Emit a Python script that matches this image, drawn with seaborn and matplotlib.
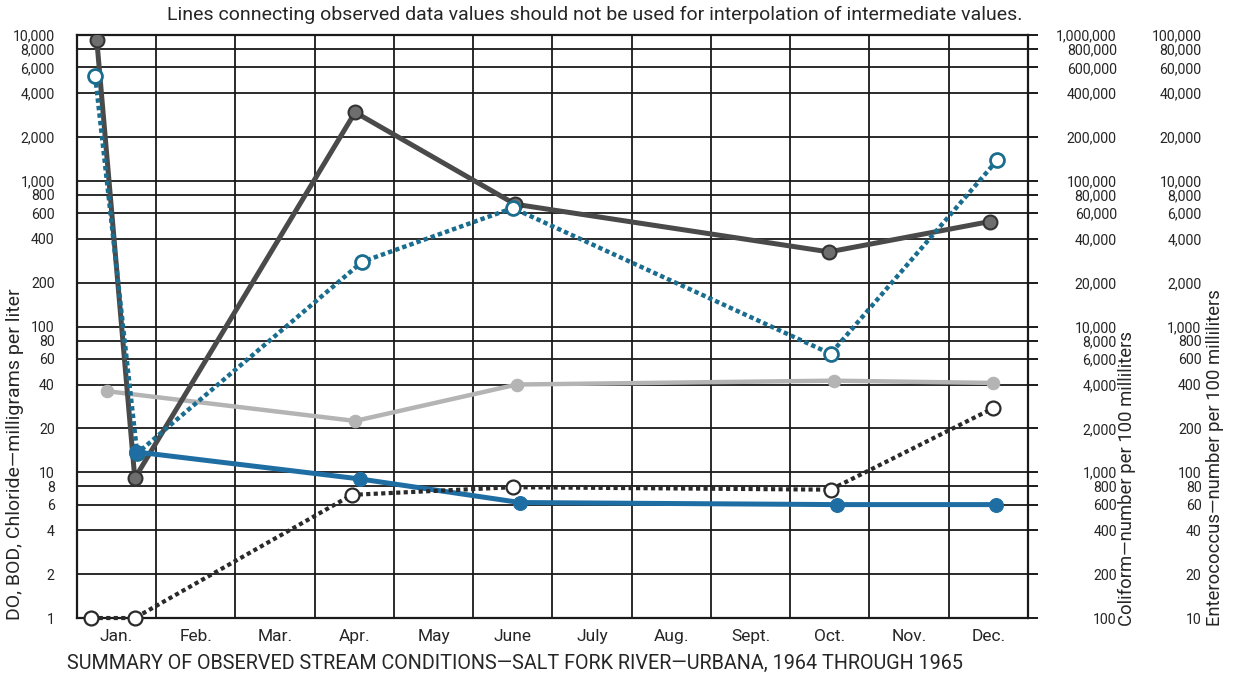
import numpy as np
import pandas as pd
import matplotlib
matplotlib.use("Agg")
import matplotlib.pyplot as plt
import seaborn as sns

# ---- data (x in months from start of January) ----
MONTHS = ["Jan.", "Feb.", "Mar.", "Apr.", "May", "June",
          "July", "Aug.", "Sept.", "Oct.", "Nov.", "Dec."]

bod_x = [0.25, 0.73, 3.51, 5.53, 9.49, 11.52]
bod_y = [9300, 9.1, 2950, 690, 325, 525]

coli_x = [0.23, 0.76, 3.60, 5.50, 9.51, 11.61]
coli_y = [5250, 13.5, 278, 650, 65, 1380]

chl_x = [0.38, 3.51, 5.55, 9.55, 11.56]
chl_y = [36, 22.5, 40, 42.5, 41]

do_x = [0.74, 3.57, 5.59, 9.59, 11.60]
do_y = [13.8, 9.0, 6.2, 6.0, 6.0]

ent_x = [0.18, 0.73, 3.47, 5.50, 9.51, 11.56]
ent_y = [1, 1, 7.0, 7.9, 7.6, 27.5]

LEFT_TICKS = [1, 2, 4, 6, 8, 10, 20, 40, 60, 80, 100, 200, 400, 600, 800,
              1000, 2000, 4000, 6000, 8000, 10000]
COLI_TICKS = [t * 100 for t in LEFT_TICKS]
ENT_TICKS = [t * 10 for t in LEFT_TICKS]

sns.set_style("white")
plt.rcParams["font.family"] = ["Roboto", "DejaVu Sans"]

TICK_FS = 10.2

fig = plt.figure(figsize=(12.37, 6.82), dpi=100)
ax = fig.add_axes([0.0622, 0.0938, 0.7688, 0.8549])

DARK = "#4a4a4a"
BLUE = "#1b6d8f"
BLUE2 = "#1f6ea3"
LGREY = "#b4b4b4"
BLACK = "#2a2a2a"

sns.lineplot(x=chl_x, y=chl_y, ax=ax, color=LGREY, lw=3.2, sort=False,
             estimator=None, marker="o", markersize=9, markeredgecolor=LGREY,
             zorder=3)
sns.lineplot(x=bod_x, y=bod_y, ax=ax, color=DARK, lw=3.6, sort=False,
             estimator=None, marker="o", markersize=10, markerfacecolor="#6e6e6e",
             markeredgecolor="#333333", markeredgewidth=1.5, zorder=4)
sns.lineplot(x=coli_x, y=coli_y, ax=ax, color=BLUE, lw=3.2, sort=False,
             estimator=None, linestyle=(0, (1.0, 0.7)), marker="o", markersize=10,
             markerfacecolor="white", markeredgecolor=BLUE, markeredgewidth=2,
             zorder=5)
sns.lineplot(x=do_x, y=do_y, ax=ax, color=BLUE2, lw=3.6, sort=False,
             estimator=None, marker="o", markersize=10, markeredgecolor=BLUE2,
             zorder=5)
sns.lineplot(x=ent_x, y=ent_y, ax=ax, color=BLACK, lw=3.0, sort=False,
             estimator=None, linestyle=(0, (1.0, 0.8)), marker="o", markersize=10,
             markerfacecolor="white", markeredgecolor=BLACK, markeredgewidth=1.6,
             zorder=5, clip_on=False)

ax.set_yscale("log")
ax.set_ylim(1, 10000)
ax.set_xlim(0, 12)
ax.set_yticks(LEFT_TICKS)
ax.set_yticklabels([f"{t:,}" for t in LEFT_TICKS])
ax.yaxis.set_minor_locator(matplotlib.ticker.NullLocator())
ax.set_xticks(np.arange(0, 13))
ax.set_xticklabels([])
ax.set_xticks(np.arange(12) + 0.5, minor=True)
ax.set_xticklabels(MONTHS, minor=True)
ax.grid(True, which="major", color="#1a1a1a", lw=1.3)
for s in ax.spines.values():
    s.set_color("#1a1a1a")
    s.set_linewidth(1.6)
ax.set_xlabel("")
ax.set_ylabel("")

# right-hand scales
for ticks, pad in [(COLI_TICKS, 64), (ENT_TICKS, 125)]:
    tw = ax.twinx()
    tw.set_yscale("log")
    tw.set_ylim(ticks[0], ticks[-1])
    tw.set_yticks(ticks)
    tw.set_yticklabels([f"{t:,}" for t in ticks])
    tw.yaxis.set_minor_locator(matplotlib.ticker.NullLocator())
    tw.tick_params(axis="y", length=0, pad=pad, labelsize=TICK_FS)
    for lab in tw.get_yticklabels():
        lab.set_ha("right")
    for s in tw.spines.values():
        s.set_visible(False)
    tw.grid(False)

# twinx switches the main axis ticks to the left only, so set them after
ax.tick_params(axis="x", which="both", length=0, pad=8, labelsize=12.5)
ax.tick_params(axis="y", left=False, right=True, labelleft=True,
               labelright=False, direction="out", length=7, width=1.4,
               color="#1a1a1a", labelsize=TICK_FS, pad=9)

fig.text(0.012, 1 - 620 / 682, "DO, BOD, Chloride\u2014milligrams per liter",
         rotation=90, va="bottom", ha="center", fontsize=14)
fig.text(1127 / 1237, 1 - 626 / 682, "Coliform\u2014number per 100 milliliters",
         rotation=90, va="bottom", ha="center", fontsize=13.3)
fig.text(1215 / 1237, 1 - 626 / 682, "Enterococcus\u2014number per 100 milliliters",
         rotation=90, va="bottom", ha="center", fontsize=13.3)

fig.text(595 / 1237, 1 - 15 / 682,
         "Lines connecting observed data values should not be used for "
         "interpolation of intermediate values.",
         ha="center", va="center", fontsize=14)
fig.text(67 / 1237, 1 - 663 / 682,
         "SUMMARY OF OBSERVED STREAM CONDITIONS\u2014SALT FORK RIVER\u2014URBANA, "
         "1964 THROUGH 1965",
         ha="left", va="center", fontsize=14.2)

fig.savefig("out.png", dpi=100)
